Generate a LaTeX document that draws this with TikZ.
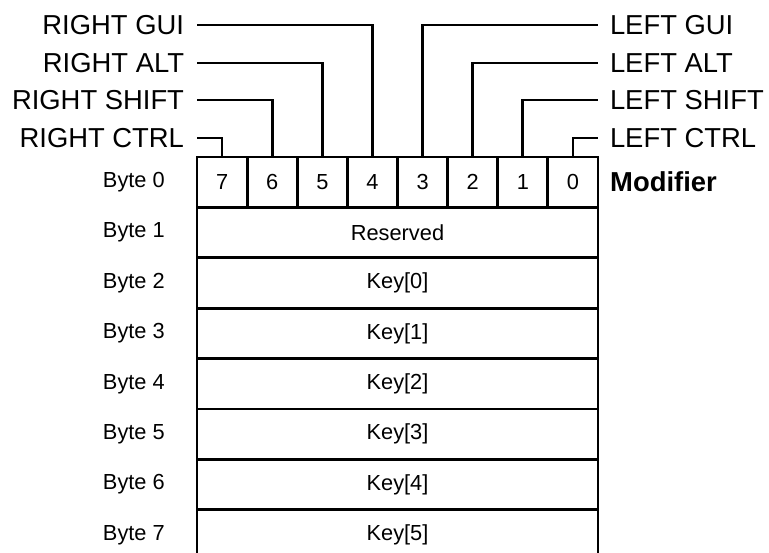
\documentclass[tikz,border=0pt]{standalone}
\usepackage{fontspec}
\setmainfont{Liberation Sans}
\usepackage{tikz}
\usetikzlibrary{positioning}
\newcommand{\smallfs}{\fontsize{21.8}{25}\selectfont}
\newcommand{\bigfs}{\fontsize{27.4}{30}\selectfont}
\tikzset{
  bitcell/.style={draw,line width=2.8pt,minimum width=50.125pt,minimum height=50.4pt,
                  inner sep=0pt,outer sep=0pt,font=\smallfs},
  rowcell/.style={bitcell,minimum width=401pt},
  bytelbl/.style={anchor=east,inner sep=0pt,font=\smallfs},
  rkey/.style={anchor=east,inner xsep=13pt,inner ysep=0pt,outer sep=0pt,font=\bigfs},
  lkey/.style={anchor=west,inner xsep=12.5pt,inner ysep=0pt,outer sep=0pt,font=\bigfs},
  wire/.style={line width=2.8pt}
}
\begin{document}
\begin{tikzpicture}[x=1pt,y=-1pt]
        \clip (0,0) rectangle (769,553);
        % byte 0: modifier bits
        \foreach \k in {0,...,7}{
          \pgfmathtruncatemacro{\bit}{7-\k}
          \node[bitcell] (b\bit) at ({197+50.125*(\k+0.5)},182.2) {\bit};
        }
        \node[anchor=west,inner sep=0pt,font=\bigfs\bfseries] (mod) at (610,182.2) {Modifier};
        % bytes 1..7
        \node[rowcell] (row1) at (397.5,232.6) {Reserved};
        \foreach \i in {2,...,7}{
          \pgfmathtruncatemacro{\k}{\i-2}
          \node[rowcell] (row\i) at (397.5,{182.2+50.4*\i}) {Key[\k]};
        }
        \foreach \i in {0,...,7}
          \node[bytelbl] (byte\i) at (165,{182.2+50.4*\i}) {Byte \i};
        % modifier keys
        \node[rkey] (rgui) at (197,25) {RIGHT GUI};
        \node[rkey] (ralt) at (197,63) {RIGHT ALT};
        \node[rkey] (rshift) at (197,100) {RIGHT SHIFT};
        \node[rkey] (rctrl) at (197,138) {RIGHT CTRL};
        \node[lkey] (lgui) at (597.5,25) {LEFT GUI};
        \node[lkey] (lalt) at (597.5,63) {LEFT ALT};
        \node[lkey] (lshift) at (597.5,100) {LEFT SHIFT};
        \node[lkey] (lctrl) at (597.5,138) {LEFT CTRL};
        \draw[wire] (rgui.east) -| (b4.north);
        \draw[wire] (ralt.east) -| (b5.north);
        \draw[wire] (rshift.east) -| (b6.north);
        \draw[wire] (rctrl.east) -| (b7.north);
        \draw[wire] (lgui.west) -| (b3.north);
        \draw[wire] (lalt.west) -| (b2.north);
        \draw[wire] (lshift.west) -| (b1.north);
        \draw[wire] (lctrl.west) -| (b0.north);
\end{tikzpicture}
\end{document}
